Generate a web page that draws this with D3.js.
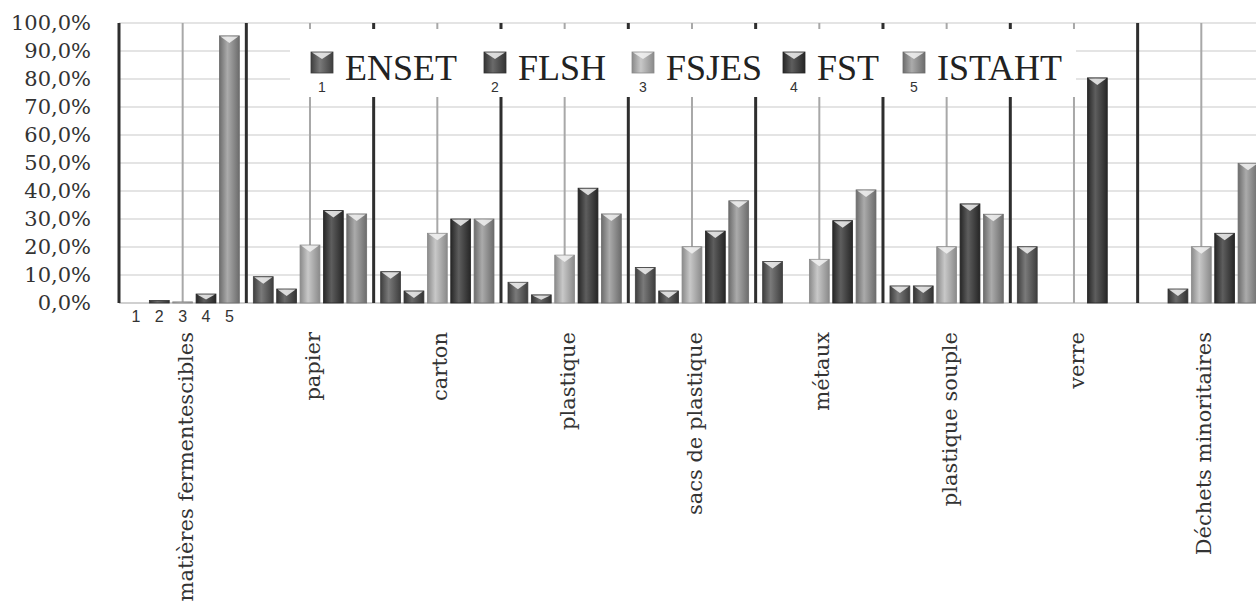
<!DOCTYPE html>
<html>
<head>
<meta charset="utf-8">
<script src="https://cdn.jsdelivr.net/npm/d3@7"></script>
<style>
html,body{margin:0;padding:0;background:#fff;}
svg{display:block;}
</style>
</head>
<body>
<svg id="chart" width="1256" height="603"></svg>
<script>
const categories = ["matières fermentescibles","papier","carton","plastique","sacs de plastique","métaux","plastique souple","verre","Déchets minoritaires"];
const seriesNames = ["ENSET","FLSH","FSJES","FST","ISTAHT"];
const seriesNumbers = ["1","2","3","4","5"];
const ENSET  = [0,   9.4, 11.2,  7.4, 12.7, 14.8,  6.1, 20.1,  0];
const FLSH   = [0.9, 5.0,  4.3,  2.9,  4.3,  0,    6.1,  0,    5.0];
const FSJES  = [0.4, 20.7, 24.9, 17.1, 20.1, 15.6, 20.1, 0,   20.1];
const FST    = [3.2, 33.0, 30.0, 41.0, 25.7, 29.4, 35.4, 80.4, 24.9];
const ISTAHT = [95.4, 31.8, 30.0, 31.8, 36.5, 40.4, 31.7, 0,   49.9];
const yTicks = [0,10,20,30,40,50,60,70,80,90,100];

const seriesValues = [ENSET, FLSH, FSJES, FST, ISTAHT];
const colors = [
  {edge:"#3e3e3e", mid:"#7a7a7a"},
  {edge:"#333333", mid:"#6a6a6a"},
  {edge:"#8a8a8a", mid:"#c8c8c8"},
  {edge:"#262626", mid:"#5e5e5e"},
  {edge:"#6c6c6c", mid:"#ababab"}
];

const svg = d3.select("#chart");
const defs = svg.append("defs");
colors.forEach((c,i)=>{
  const g = defs.append("linearGradient").attr("id","g"+i).attr("x1","0").attr("x2","1").attr("y1","0").attr("y2","0");
  g.append("stop").attr("offset","0%").attr("stop-color",c.edge);
  g.append("stop").attr("offset","40%").attr("stop-color",c.mid);
  g.append("stop").attr("offset","100%").attr("stop-color",c.edge);
});

const x0 = d3.scaleBand().domain(categories).range([119, 119 + 9*127.33]);
const x1 = d3.scaleBand().domain(seriesNames).range([0, x0.bandwidth()]).paddingInner(0.15).paddingOuter(0.3);
const y = d3.scaleLinear().domain([0,100]).range([303, 23]);
const fmt = d3.formatLocale({decimal:",", thousands:" ", grouping:[3], currency:["","€"]}).format(".1f");

// gridlines
svg.append("g").selectAll("line").data(yTicks.filter(t=>t>0)).join("line")
  .attr("x1",119).attr("x2",1256).attr("y1",d=>y(d)).attr("y2",d=>y(d))
  .attr("stroke","#e4e4e4").attr("stroke-width",2);
// baseline
svg.append("line").attr("x1",119).attr("x2",1256).attr("y1",y(0)).attr("y2",y(0)).attr("stroke","#d0d0d0").attr("stroke-width",2);

// center thin lines
svg.append("g").selectAll("line").data(categories).join("line")
  .attr("x1",d=>x0(d)+x0.bandwidth()/2).attr("x2",d=>x0(d)+x0.bandwidth()/2)
  .attr("y1",y(100)).attr("y2",y(0)).attr("stroke","#a8a8a8").attr("stroke-width",2);
// separators
svg.append("g").selectAll("line").data(categories).join("line")
  .attr("x1",d=>x0(d)).attr("x2",d=>x0(d))
  .attr("y1",y(100)).attr("y2",y(0)).attr("stroke","#2e2e2e").attr("stroke-width",3);

// bars
const groups = svg.append("g").selectAll("g").data(categories).join("g")
  .attr("transform",d=>`translate(${x0(d)},0)`);
groups.each(function(cat, ci){
  const g = d3.select(this);
  seriesNames.forEach((s, si)=>{
    const v = seriesValues[si][ci];
    if (v <= 0) return;
    const bx = x1(s), bw = x1.bandwidth();
    const top = y(v), h = y(0) - y(v);
    g.append("rect").attr("x",bx).attr("y",top).attr("width",bw).attr("height",h)
      .attr("fill",`url(#g${si})`).attr("stroke",colors[si].edge).attr("stroke-width",0.8);
    const ch = Math.min(7, h*0.6);
    if (h > 3) {
      g.append("path")
        .attr("d",`M${bx+1},${top+0.5} L${bx+bw-1},${top+0.5} L${bx+bw/2},${top+ch} Z`)
        .attr("fill","#f2f2f2").attr("opacity",0.85);
    }
  });
});

// y axis labels
svg.append("g").selectAll("text").data(yTicks).join("text")
  .attr("x",91).attr("y",d=>y(d)).attr("dy","0.35em").attr("text-anchor","end")
  .attr("font-family","DejaVu Serif").attr("font-size",21).attr("fill","#333")
  .text(d=>fmt(d)+"%");

// numbers under first group
svg.append("g").selectAll("text").data(seriesNumbers).join("text")
  .attr("x",(d,i)=>x0(categories[0]) + x1(seriesNames[i]) + x1.bandwidth()/2)
  .attr("y",316).attr("dy","0.35em").attr("text-anchor","middle")
  .attr("font-family","Liberation Sans, Arial").attr("font-size",16).attr("fill","#333")
  .text(d=>d);

// category labels
svg.append("g").selectAll("text").data(categories).join("text")
  .attr("transform",d=>`translate(${x0(d)+x0.bandwidth()/2+10},332) rotate(-90)`)
  .attr("text-anchor","end")
  .attr("font-family","DejaVu Serif").attr("font-size",21).attr("fill","#333")
  .text(d=>d);

// legend
const leg = svg.append("g");
leg.append("rect").attr("x",290).attr("y",29).attr("width",786).attr("height",68).attr("fill","#fff");
const legMarkerX = [311, 484, 632, 783, 903];
seriesNames.forEach((s,i)=>{
  const mx = legMarkerX[i];
  leg.append("rect").attr("x",mx).attr("y",52).attr("width",22).attr("height",21)
    .attr("fill",`url(#g${i})`).attr("stroke",colors[i].edge).attr("stroke-width",0.8);
  leg.append("path").attr("d",`M${mx+1},52.5 L${mx+21},52.5 L${mx+11},59 Z`).attr("fill","#f2f2f2").attr("opacity",0.85);
  leg.append("text").attr("x",mx+11).attr("y",87).attr("dy","0.35em").attr("text-anchor","middle")
    .attr("font-family","Liberation Sans, Arial").attr("font-size",14).attr("fill","#333").text(seriesNumbers[i]);
  leg.append("text").attr("x",mx+34).attr("y",80)
    .attr("font-family","Liberation Serif").attr("font-size",36).attr("fill","#222").text(s);
});
</script>
</body>
</html>
